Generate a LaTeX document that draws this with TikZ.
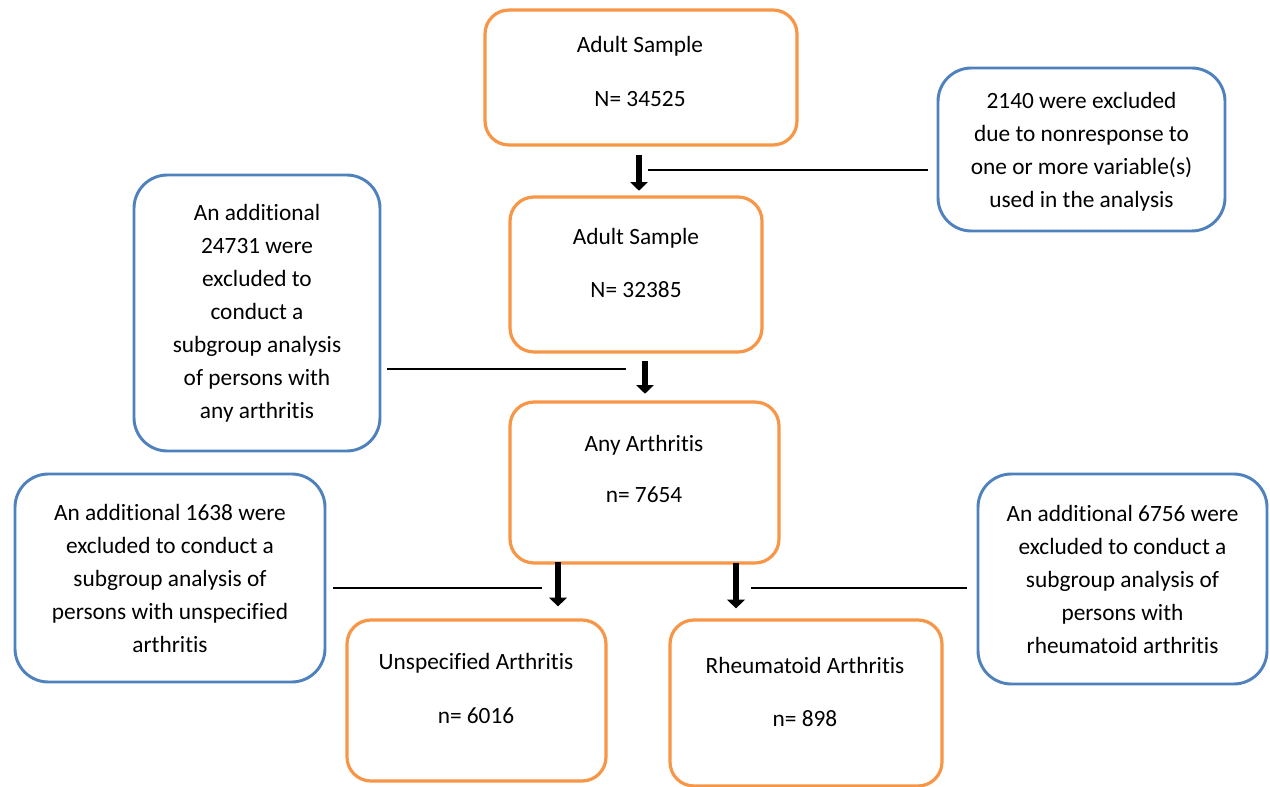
\documentclass[tikz,border=0pt]{standalone}
\usepackage{fontspec}
\setmainfont{Carlito}[Ligatures=NoCommon]
\usetikzlibrary{arrows.meta,fit}
\definecolor{boxorange}{HTML}{F79646}
\definecolor{boxblue}{HTML}{4F81BD}
\tikzset{
  obox/.style={draw=boxorange, line width=2.4pt, rounded corners=18pt, inner sep=0pt, fill=white},
  bbox/.style={draw=boxblue, line width=2.2pt, rounded corners=25pt, inner sep=0pt, fill=white},
  txt/.style={font=\fontsize{17.5}{24.75}\selectfont, inner sep=0pt, anchor=base},
  etxt/.style={font=\fontsize{17.5}{24.75}\selectfont, align=center, inner sep=0pt},
  arr/.style={line width=4.6pt, -{Triangle[width=13pt,length=6.5pt]}},
  conn/.style={line width=1pt}
}
\begin{document}
\begin{tikzpicture}[x=0.75pt,y=-0.75pt]
\useasboundingbox (0,0) rectangle (1270,787);
\clip (0,0) rectangle (1270,787);
% main boxes
\node[obox, fit={(485,10) (797,145)}] (b1) {};
\node[obox, fit={(510,197) (762,352)}] (b2) {};
\node[obox, fit={(510,402) (779,563)}] (b3) {};
\node[obox, fit={(347,620) (606,781)}] (b4) {};
\node[obox, fit={(670,620) (942,786)}] (b5) {};
% exclusion boxes
\node[bbox, fit={(938,68) (1225,231)}] (e1) {};
\node[bbox, fit={(134,175) (380,451)}] (e2) {};
\node[bbox, fit={(15,474) (325,682)}] (e3) {};
\node[bbox, fit={(978,474) (1267,684)}] (e4) {};
% main texts
\node[txt] (t1a) at (640,53) {Adult Sample};
\node[txt] (t1b) at (640,107) {N= 34525};
\node[txt] (t2a) at (636,245) {Adult Sample};
\node[txt] (t2b) at (636,298) {N= 32385};
\node[txt] (t3a) at (644,451) {Any Arthritis};
\node[txt] (t3b) at (644,503) {n= 7654};
\node[txt] (t4a) at (476,669) {Unspecified Arthritis};
\node[txt] (t4b) at (476,723) {n= 6016};
\node[txt] (t5a) at (805,673) {Rheumatoid Arthritis};
\node[txt] (t5b) at (805,726) {n= 898};
% exclusion texts
\node[etxt] (u1) at ([yshift=-1.5pt]e1.center) {2140 were excluded\\due to nonresponse to\\one or more variable(s)\\used in the analysis};
\node[etxt] (u2) at (e2.center) {An additional\\24731 were\\excluded to\\conduct a\\subgroup analysis\\of persons with\\any arthritis};
\node[etxt] (u3) at (e3.center) {An additional 1638 were\\excluded to conduct a\\subgroup analysis of\\persons with unspecified\\arthritis};
\node[etxt] (u4) at (e4.center) {An additional 6756 were\\excluded to conduct a\\subgroup analysis of\\persons with\\rheumatoid arthritis};
% arrow x positions
\coordinate (x1) at (639,0);
\coordinate (x2) at (645,0);
\coordinate (x3) at (558,0);
\coordinate (x4) at (736,0);
\draw[arr, shorten <=6.5pt, shorten >=3.5pt] (b1.south -| x1) -- (b2.north -| x1);
\draw[arr, shorten <=5.5pt, shorten >=5pt] (b2.south -| x2) -- (b3.north -| x2);
\draw[arr, shorten <=-2pt, shorten >=9pt] (b3.south -| x3) -- (b4.north -| x3);
\draw[arr, shorten <=-1pt, shorten >=7.5pt] (b3.south -| x4) -- (b5.north -| x4);
% side connectors
\coordinate (c1a) at (928,170);
\coordinate (c1b) at (648,170);
\coordinate (c2a) at (387,369);
\coordinate (c2b) at (626,369);
\coordinate (c3a) at (333,588);
\coordinate (c3b) at (542,588);
\coordinate (c4a) at (967,588);
\coordinate (c4b) at (751,588);
\draw[conn] (c1a) -- (c1b);
\draw[conn] (c2a) -- (c2b);
\draw[conn] (c3a) -- (c3b);
\draw[conn] (c4a) -- (c4b);
\end{tikzpicture}
\end{document}
